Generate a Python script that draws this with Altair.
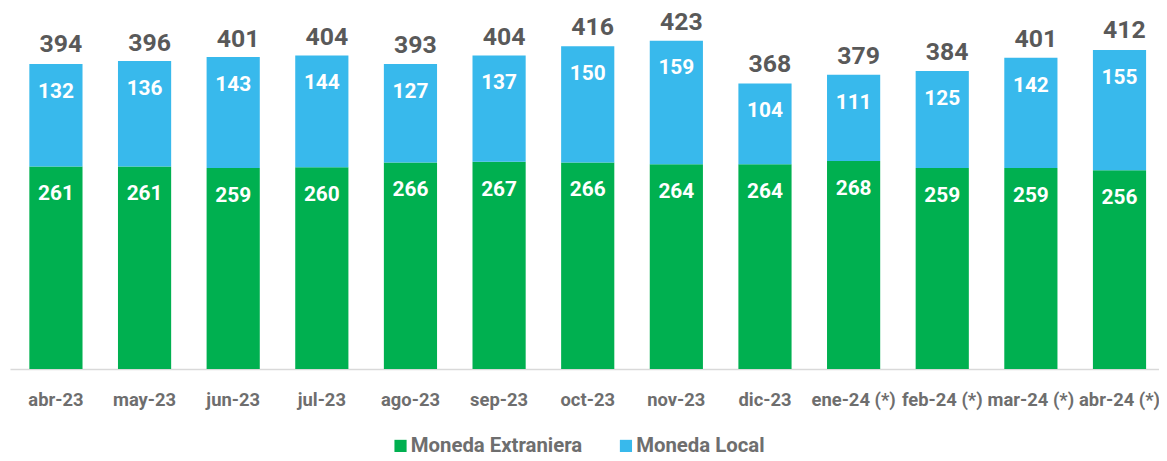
import altair as alt
import pandas as pd

months = ["abr-23", "may-23", "jun-23", "jul-23", "ago-23", "sep-23", "oct-23",
          "nov-23", "dic-23", "ene-24 (*)", "feb-24 (*)", "mar-24 (*)", "abr-24 (*)"]
extranjera = [261, 261, 259, 260, 266, 267, 266, 264, 264, 268, 259, 259, 256]
local = [132, 136, 143, 144, 127, 137, 150, 159, 104, 111, 125, 142, 155]
totals = [394, 396, 401, 404, 393, 404, 416, 423, 368, 379, 384, 401, 412]

series = ["Moneda Extraniera", "Moneda Local"]
colors = ["#00B050", "#38B9EC"]

FONT = "Roboto, Lato, sans-serif"

rows = []
for m, e, l in zip(months, extranjera, local):
    rows.append({"mes": m, "serie": series[0], "valor": e, "ord": 0})
    rows.append({"mes": m, "serie": series[1], "valor": l, "ord": 1})
df = pd.DataFrame(rows)
df_tot = pd.DataFrame({"mes": months, "total": totals})

xscale = alt.Scale(domain=months, paddingInner=0.4, paddingOuter=0.182, align=0.6,
                   round=False)
yscale = alt.Scale(domain=[0, 458], nice=False, zero=True)

x_enc = alt.X("mes:N", scale=xscale, sort=months,
              axis=alt.Axis(title=None, labelAngle=0, ticks=False, labelPadding=22,
                            labelFontSize=18.5, labelFont=FONT, labelFontWeight="bold",
                            labelColor="#6E6E6E", domainColor="#D9D9D9", domainWidth=1.5,
                            labelLimit=0, grid=False))

bars = alt.Chart(df).mark_bar().encode(
    x=x_enc,
    y=alt.Y("valor:Q", stack="zero", scale=yscale, axis=None),
    color=alt.Color("serie:N", scale=alt.Scale(domain=series, range=colors),
                    legend=alt.Legend(title=None, orient="none", direction="horizontal",
                                      legendX=383, legendY=425, symbolType="square",
                                      symbolSize=150, symbolStrokeWidth=0,
                                      labelFont=FONT, labelFontSize=20.5,
                                      labelFontWeight="bold", labelColor="#6E6E6E",
                                      labelOffset=0, columnPadding=33, padding=0,
                                      labelLimit=0)),
    order=alt.Order("ord:Q", sort="ascending"),
)

seg_text = alt.Chart(df).mark_text(color="white", fontSize=21, font=FONT,
                                   fontWeight="bold", baseline="middle", dy=28).encode(
    x=alt.X("mes:N", scale=xscale, sort=months),
    y=alt.Y("valor:Q", stack="zero", scale=yscale),
    detail="serie:N",
    order=alt.Order("ord:Q", sort="ascending"),
    text="valor:Q",
)

tot_text = alt.Chart(df_tot).mark_text(color="#595959", fontSize=25, font=FONT,
                                       fontWeight="bold", baseline="middle",
                                       dy=-19, dx=5).encode(
    x=alt.X("mes:N", scale=xscale, sort=months),
    y=alt.Y("total:Q", scale=yscale),
    text="total:Q",
)

chart = alt.layer(bars, seg_text, tot_text).properties(
    width=1157, height=358,
    padding={"left": 2, "top": 4, "right": 0, "bottom": 90},
    autosize=alt.AutoSizeParams(type="none"),
    background="white",
).configure_view(stroke=None)

chart.save("out.html", embed_options={"renderer": "svg", "actions": False})
